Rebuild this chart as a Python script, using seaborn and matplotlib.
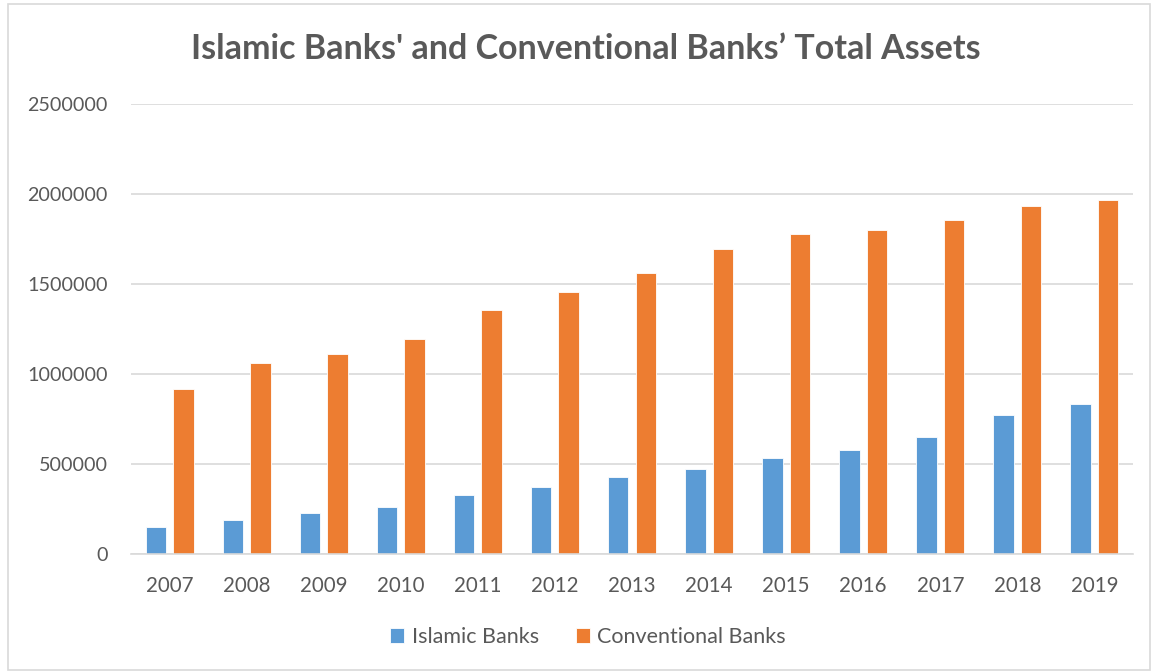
import matplotlib
matplotlib.use("Agg")
import matplotlib.pyplot as plt
import seaborn as sns
import pandas as pd
from matplotlib.patches import Rectangle

years = ["2007", "2008", "2009", "2010", "2011", "2012", "2013",
         "2014", "2015", "2016", "2017", "2018", "2019"]
islamic = [150000, 187000, 228000, 261000, 326000, 374000, 426000,
           474000, 534000, 578000, 652000, 771000, 834000]
conventional = [919000, 1062000, 1110000, 1197000, 1356000, 1455000, 1560000,
                1695000, 1777000, 1799000, 1853000, 1933000, 1968000]
series_names = ["Islamic Banks", "Conventional Banks"]
colors = ["#5B9BD5", "#ED7D31"]
title = "Islamic Banks' and Conventional Banks\u2019 Total Assets"
yticks = [0, 500000, 1000000, 1500000, 2000000, 2500000]

df = pd.DataFrame({
    "Year": years * 2,
    "Value": islamic + conventional,
    "Series": [series_names[0]] * len(years) + [series_names[1]] * len(years),
})

sns.set_theme(style="white")
plt.rcParams["font.family"] = ["Lato", "DejaVu Sans"]
text_color = "#595959"

fig = plt.figure(figsize=(11.57, 6.72), dpi=100)
ax = fig.add_axes([131 / 1157, 1 - 554 / 672, (1133 - 131) / 1157, (554 - 104) / 672])

sns.barplot(data=df, x="Year", y="Value", hue="Series", order=years,
            hue_order=series_names, palette=colors, width=0.714, gap=0.255,
            edgecolor="white", linewidth=0.6, saturation=1, ax=ax, legend=True)

ax.set_ylim(0, 2500000)
ax.set_xlim(-0.5, len(years) - 0.5)
ax.set_yticks(yticks)
ax.set_yticklabels([str(v) for v in yticks])
ax.yaxis.grid(True, color="#D9D9D9", linewidth=1.2)
ax.set_axisbelow(True)
for s in ["top", "right", "left"]:
    ax.spines[s].set_visible(False)
ax.spines["bottom"].set_color("#D9D9D9")
ax.spines["bottom"].set_linewidth(1.2)
ax.set_xlabel("")
ax.set_ylabel("")
ax.tick_params(axis="x", length=0, pad=16, labelsize=14.8, labelcolor=text_color)
ax.tick_params(axis="y", length=0, pad=17, labelsize=14.2, labelcolor=text_color)

handles, labels = ax.get_legend_handles_labels()
ax.legend_.remove()
fig.legend(handles, labels, loc="center", bbox_to_anchor=(588 / 1157, 1 - 637 / 672),
           ncol=2, frameon=False, fontsize=15.5, labelcolor=text_color,
           handlelength=0.65, handleheight=0.65, handletextpad=0.35, columnspacing=1.7)

fig.text(586 / 1157, 1 - 49 / 672, title, ha="center", va="center",
         fontsize=24.5, fontweight="bold", color=text_color)

fig.patches.append(Rectangle((8 / 1157, 2 / 672), (1150 - 8) / 1157, (668 - 2) / 672,
                             transform=fig.transFigure, fill=False,
                             edgecolor="#D9D9D9", linewidth=1.2))

fig.savefig("out.png", dpi=100, facecolor="white")
